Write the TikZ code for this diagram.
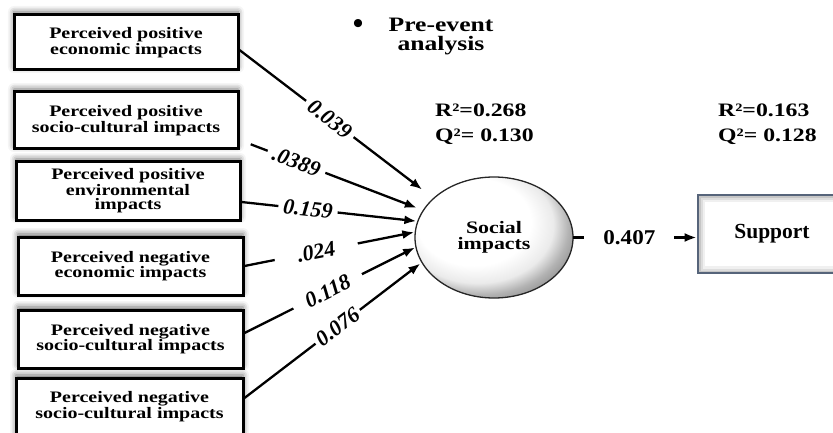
\documentclass[tikz,border=0pt]{standalone}
\usepackage{fontspec}
\setmainfont{Liberation Serif}
\newfontfamily\wideA[FakeStretch=1.25]{Liberation Serif}
\newfontfamily\wideB[FakeStretch=1.1]{Liberation Serif}
\usetikzlibrary{shapes.geometric,arrows.meta,shadows.blur}
\pgfdeclareradialshading{sball}{\pgfpoint{-10bp}{10bp}}{color(0bp)=(white); color(18bp)=(white); color(24bp)=(black!8); color(28bp)=(black!30); color(33bp)=(black!48); color(50bp)=(black!48)}
\definecolor{slate}{HTML}{56647A}
\tikzset{
  box/.style={draw, line width=3pt, fill=white, align=center, inner sep=0pt,
    font=\wideA\bfseries\fontsize{16pt}{14.5pt}\selectfont,
    blur shadow={shadow xshift=0pt, shadow yshift=3pt, shadow blur radius=6pt, shadow opacity=60}},
  conn/.style={line width=2.3pt, -{Latex[length=12pt,width=9pt]}},
  lab/.style={fill=white, sloped, inner ysep=0pt,
    font=\bfseries\itshape\fontsize{22pt}{22pt}\selectfont},
  stat/.style={anchor=north west, align=left, inner sep=0pt,
    font=\wideA\bfseries\fontsize{19pt}{25pt}\selectfont},
}
\begin{document}
\begin{tikzpicture}[x=1pt,y=-1pt]
\clip (0,0) rectangle (833,433);
% left boxes
\node[box, minimum width=224pt, minimum height=55pt] (b1) at (126,42.5) {Perceived positive\\economic impacts};
\node[box, minimum width=224pt, minimum height=57pt] (b2) at (126,120.5) {Perceived positive\\socio-cultural impacts};
\node[box, minimum width=224pt, minimum height=58pt] (b3) at (128,191) {Perceived positive\\environmental\\impacts};
\node[box, minimum width=225pt, minimum height=58pt] (b4) at (130.5,266) {Perceived negative\\economic impacts};
\node[box, minimum width=225pt, minimum height=58pt] (b5) at (130.5,339) {Perceived negative\\socio-cultural impacts};
\node[box, minimum width=227pt, minimum height=57pt] (b6) at (129.5,406.5) {Perceived negative\\socio-cultural impacts};
% central ellipse
\node[ellipse, draw=black!85, line width=1.3pt, shading=sball, minimum width=158pt, minimum height=121pt,
  inner sep=0pt, outer sep=0pt, align=center, font=\wideA\bfseries\fontsize{17.5pt}{16pt}\selectfont] (si) at (494,237.5) {Social\\impacts};
% support box
\node[draw=slate, line width=2.8pt, fill=white, minimum width=148pt, minimum height=78pt, inner sep=0pt,
  font=\bfseries\fontsize{21.5pt}{21.5pt}\selectfont,
  path picture={\foreach \w/\o in {14/0.06,9/0.08,5/0.1}{\draw[line width=\w pt, black, opacity=\o] (path picture bounding box.south west) rectangle (path picture bounding box.north east);}}] (sup) at (772,234) {Support};
% title
\node[inner sep=0pt, font=\bfseries\fontsize{30pt}{30pt}\selectfont] (bul) at (358,27) {•};
\node[align=center, inner sep=0pt, font=\wideA\bfseries\fontsize{20.5pt}{19pt}\selectfont] (ttl) at (441,37) {Pre-event\\analysis};
% statistics
\node[stat] (r1) at (435,104) {R²=0.268\\Q²= 0.130};
\node[stat] (r2) at (718,104) {R²=0.163\\Q²= 0.128};
% connectors
\draw[conn, shorten >=14.5pt] ([yshift=-7.5pt]b1.east) -- node[lab, pos=.465, inner xsep=5pt] (l1) {0.039} (si.147);
\draw[conn, shorten <=12pt, shorten >=7pt] ([yshift=-19.5pt]b2.east) -- node[lab, pos=.31, inner xsep=6pt] (l2) {.0389} (si.159);
\draw[conn, shorten >=1.5pt] ([yshift=-11pt]b3.east) -- node[lab, pos=.377, inner xsep=5pt] (l3) {0.159} (si.168);
\draw[conn, shorten >=1pt] (b4.east) -- node[lab, pos=.42, inner xsep=23pt] (l4) {.024} (si.176);
\draw[conn, shorten >=1pt] ([yshift=6pt]b5.east) -- node[lab, pos=.485, inner xsep=14pt] (l5) {0.118} (si.187);
\draw[conn, shorten >=2pt] ([yshift=8.5pt]b6.east) -- node[lab, pos=.525, inner xsep=3pt] (l6) {0.076} (si.199);
\draw[conn] (si.east) -- node[pos=.456, fill=white, inner sep=0pt, minimum width=90pt, minimum height=20pt,
  font=\wideB\bfseries\fontsize{21pt}{21pt}\selectfont] (l7) {0.407} (si.east -| sup.west);
\end{tikzpicture}
\end{document}
